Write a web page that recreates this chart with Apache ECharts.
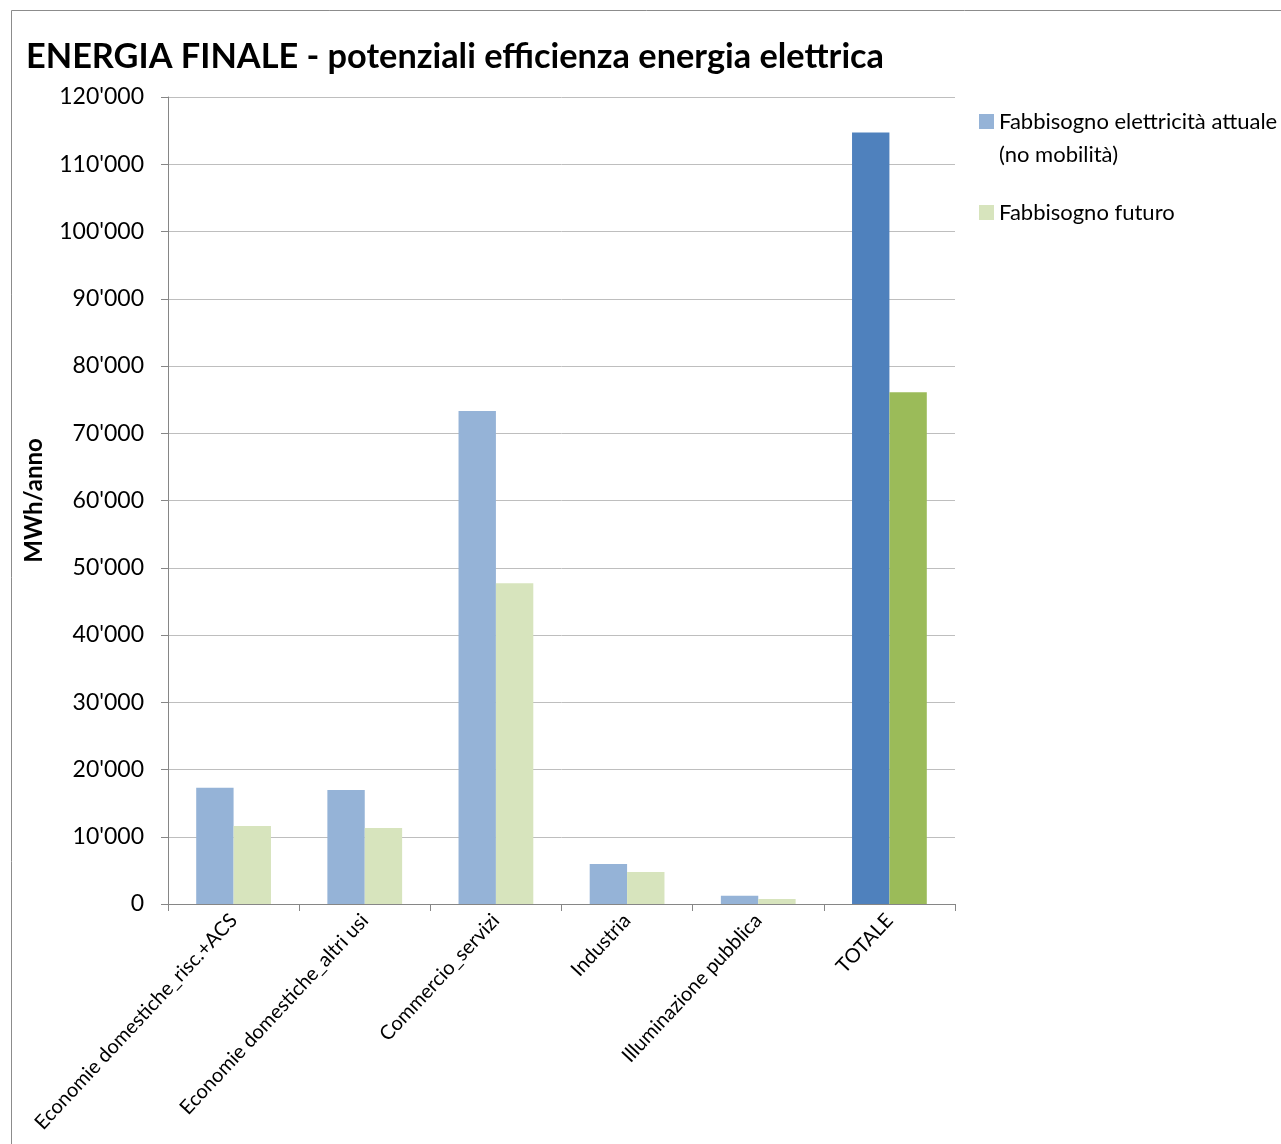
<!DOCTYPE html>
<html>
<head>
<meta charset="utf-8">
<style>
  html, body { margin: 0; padding: 0; background: #ffffff; }
  #chart { width: 1281px; height: 1144px; }
</style>
<script src="https://cdn.jsdelivr.net/npm/echarts@6/dist/echarts.min.js"></script>
</head>
<body>
<div id="chart"></div>
<script>
// Electricity demand per sector (MWh/anno)
const categories = [
  'Economie domestiche_risc.+ACS',
  'Economie domestiche_altri usi',
  'Commercio_servizi',
  'Industria',
  'Illuminazione pubblica',
  'TOTALE'
];
const attuale = [17300, 16950, 73300, 5950, 1230, 114730];
const futuro = [11600, 11300, 47700, 4750, 740, 76090];
const seriesNames = ['Fabbisogno elettricità attuale', 'Fabbisogno futuro'];
const legendSecondLine = '(no mobilità)';

const FONT = 'Lato, "Noto Sans", sans-serif';
const colAttuale = '#95B3D7', colAttualeTot = '#4F81BD';
const colFuturo = '#D7E4BD', colFuturoTot = '#9BBB59';
const LEGEND_LH = 33;

function withTotalColor(values, base, total) {
  return values.map((v, i) => ({
    value: v,
    itemStyle: { color: i === values.length - 1 ? total : base }
  }));
}

function fmtThousands(v) {
  return String(v).replace(/\B(?=(\d{3})+(?!\d))/g, "'");
}

// The swatch is centred on the text block, so an empty first line
// keeps it level with the series name on the middle line.
function legendLabel(name) {
  return name === seriesNames[0] ? ' \n' + name + '\n' + legendSecondLine : name;
}

const chart = echarts.init(document.getElementById('chart'));
chart.setOption({
  animation: false,
  backgroundColor: '#ffffff',
  title: {
    text: 'ENERGIA FINALE - potenziali efficienza energia elettrica',
    left: 21, top: 35,
    textStyle: { fontFamily: FONT, fontWeight: 'bold', fontSize: 34.3, color: '#000' }
  },
  legend: {
    orient: 'vertical',
    left: 974, top: 67,
    itemWidth: 15, itemHeight: 15,
    itemGap: 25,
    icon: 'rect',
    data: [
      { name: seriesNames[0], itemStyle: { color: colAttuale } },
      { name: seriesNames[1], itemStyle: { color: colFuturo } }
    ],
    formatter: legendLabel,
    textStyle: { fontFamily: FONT, fontSize: 22, color: '#000', lineHeight: LEGEND_LH }
  },
  grid: { left: 168, right: 326, top: 97, bottom: 240, containLabel: false },
  xAxis: {
    type: 'category',
    data: categories,
    axisLine: { lineStyle: { color: '#868686', width: 1 } },
    axisTick: { show: true, length: 7, lineStyle: { color: '#868686' } },
    axisLabel: {
      rotate: 47, interval: 0, margin: 13,
      fontFamily: FONT, fontSize: 20, color: '#000'
    }
  },
  yAxis: {
    type: 'value',
    min: 0, max: 120000, interval: 10000,
    name: 'MWh/anno',
    nameLocation: 'middle',
    nameGap: 122,
    nameTextStyle: { fontFamily: FONT, fontWeight: 'bold', fontSize: 24, color: '#000' },
    axisLine: { show: true, lineStyle: { color: '#868686' } },
    axisTick: { show: true, length: 7, lineStyle: { color: '#868686' } },
    axisLabel: {
      margin: 24, fontFamily: FONT, fontSize: 23, color: '#000',
      formatter: fmtThousands
    },
    splitLine: { lineStyle: { color: '#BEBEBE', width: 1 } }
  },
  series: [
    {
      name: seriesNames[0], type: 'bar',
      barGap: '0%', barCategoryGap: '43%',
      itemStyle: { color: colAttuale },
      data: withTotalColor(attuale, colAttuale, colAttualeTot)
    },
    {
      name: seriesNames[1], type: 'bar',
      barGap: '0%', barCategoryGap: '43%',
      itemStyle: { color: colFuturo },
      data: withTotalColor(futuro, colFuturo, colFuturoTot)
    }
  ],
  graphic: [
    {
      type: 'rect', silent: true, z: -1,
      shape: { x: 11.5, y: 10.5, width: 1300, height: 1200 },
      style: { fill: 'none', stroke: '#8C8C8C', lineWidth: 1 }
    }
  ]
});
</script>
</body>
</html>
